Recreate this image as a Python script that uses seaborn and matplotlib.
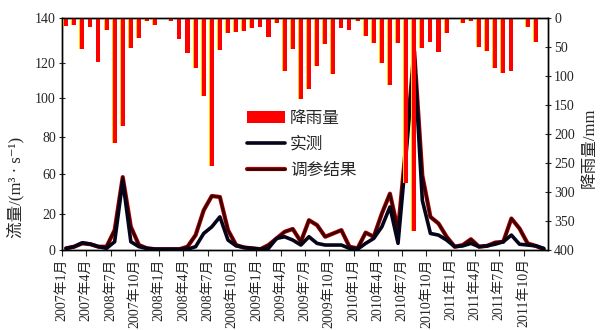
import numpy as np
import pandas as pd
import matplotlib
matplotlib.use("Agg")
import matplotlib.pyplot as plt
import matplotlib.patheffects as pe
from matplotlib.patches import Patch
from matplotlib.lines import Line2D
import seaborn as sns

# monthly series, 2007-01 .. 2011-12
month_idx = np.arange(60)

rain_mm = [13, 12, 53, 15, 75, 20, 215, 186, 51, 34, 6, 12,
           1, 5, 37, 60, 86, 135, 255, 55, 25, 24, 23, 18,
           15, 32, 8, 92, 54, 139, 123, 82, 44, 97, 17, 20,
           5, 31, 43, 77, 116, 43, 285, 368, 52, 41, 59, 25,
           2, 8, 6, 50, 57, 86, 94, 91, 1, 15, 41, 1]

observed = [1, 2, 4.4, 3.6, 2, 1, 5, 42, 5, 2, 1, 0.5,
            0.5, 0.5, 0.5, 0.5, 2, 10, 14, 20, 6, 2.5, 1.5, 1,
            0.5, 1, 7, 8, 6, 3, 8, 4, 3, 3, 3, 1,
            0.5, 4, 7, 14, 26, 4, 58, 117, 30, 10, 9, 6,
            2, 2.5, 4, 2, 2.5, 3.5, 5, 9, 3.5, 3, 2.5, 1]

calibrated = [1, 2, 4, 3.5, 2, 2, 12, 44, 14, 3, 1, 0.5,
              0.5, 0.5, 0.5, 2, 9, 24, 32.6, 32, 12, 3, 1.5, 1,
              0.5, 3, 7, 11, 12.7, 5, 18, 15, 8, 10, 12, 2,
              1, 10.5, 8, 22, 34, 12, 64, 120, 45, 20, 16, 8,
              2, 3, 6.5, 2, 2.5, 4.5, 5, 19, 13, 4, 2.5, 0.5]

tick_labels = ['2007年1月', '2007年4月', '2008年7月', '2007年10月',
               '2008年1月', '2008年4月', '2008年7月', '2008年10月',
               '2009年1月', '2009年4月', '2009年7月', '2009年10月',
               '2010年1月', '2010年4月', '2010年7月', '2010年10月',
               '2011年1月', '2011年4月', '2011年7月', '2011年10月']

flow_tick_labels = ['0', '20', '60', '80', '100', '120', '140']


def main():
    sns.set_theme(style="white")
    plt.rcParams['font.family'] = ['Liberation Serif', 'Noto Sans CJK SC', 'DejaVu Serif']
    plt.rcParams['axes.unicode_minus'] = False

    df = pd.DataFrame({'x': month_idx + 0.5, 'rain': rain_mm,
                       'obs': observed, 'cal': calibrated})
    # yellow shadow layer, slightly left of each red bar
    df_shadow = df.assign(x=df['x'] - 0.1)

    fig = plt.figure(figsize=(6.05, 3.3), dpi=100)
    ax = fig.add_axes([0.1025, 0.2424, 0.803, 0.703])
    ax2 = ax.twinx()

    # flow lines
    sns.lineplot(data=df, x='x', y='cal', ax=ax, color='#3a0000', lw=1.8,
                 path_effects=[pe.Stroke(linewidth=3.0, foreground='#b00000'), pe.Normal()])
    sns.lineplot(data=df, x='x', y='obs', ax=ax, color='#05051a', lw=2.6)

    # rainfall bars hanging from the top
    sns.barplot(data=df_shadow, x='x', y='rain', native_scale=True, color='#ffd200',
                saturation=1, width=0.5, linewidth=0, ax=ax2)
    sns.barplot(data=df, x='x', y='rain', native_scale=True, color='#ff0000',
                saturation=1, width=0.5, linewidth=0, ax=ax2)

    ax.set_xlim(0, 60)
    ax2.set_xlim(0, 60)
    ax.set_ylim(0, 140)
    ax2.set_ylim(400, 0)

    ax.set_xticks(np.arange(0, 60, 3))
    ax.set_xticklabels(tick_labels, rotation=90, fontsize=10)
    ax.set_yticks([0, 22, 46, 68, 92, 113, 140])
    ax.set_yticklabels(flow_tick_labels, fontsize=10)
    ax2.set_yticks(np.arange(0, 401, 50))
    ax2.tick_params(axis='y', labelsize=10, direction='inout', length=5, width=0.8, pad=2)
    ax.tick_params(axis='y', direction='inout', length=5, width=0.8, pad=2, left=True)
    ax.tick_params(axis='x', direction='out', length=4, width=0.8, pad=2, bottom=True)

    ax.set_xlabel('')
    ax2.set_xlabel('')
    ax.set_ylabel('流量/(m³ · s⁻¹)', fontsize=12)
    ax.yaxis.set_label_coords(-0.078, 0.27)
    ax2.set_ylabel('降雨量/mm', fontsize=12, rotation=90)
    ax2.yaxis.set_label_coords(1.07, 0.44)

    for a in (ax, ax2):
        for s in a.spines.values():
            s.set_color('black')
            s.set_linewidth(1.0)

    handles = [
        Patch(facecolor='#ff0000', edgecolor='none'),
        Line2D([], [], color='#05051a', lw=2.6),
        Line2D([], [], color='#3a0000', lw=1.8,
               path_effects=[pe.Stroke(linewidth=3.0, foreground='#b00000'), pe.Normal()]),
    ]
    ax2.legend(handles, ['降雨量', '实测', '调参结果'], loc='upper left',
               bbox_to_anchor=(0.38, 0.6), frameon=False, fontsize=12,
               handlelength=2.3, labelspacing=0.6, borderpad=0, borderaxespad=0,
               handletextpad=0.3)

    fig.savefig('out.png', dpi=100)
    plt.close(fig)


if __name__ == '__main__':
    main()
